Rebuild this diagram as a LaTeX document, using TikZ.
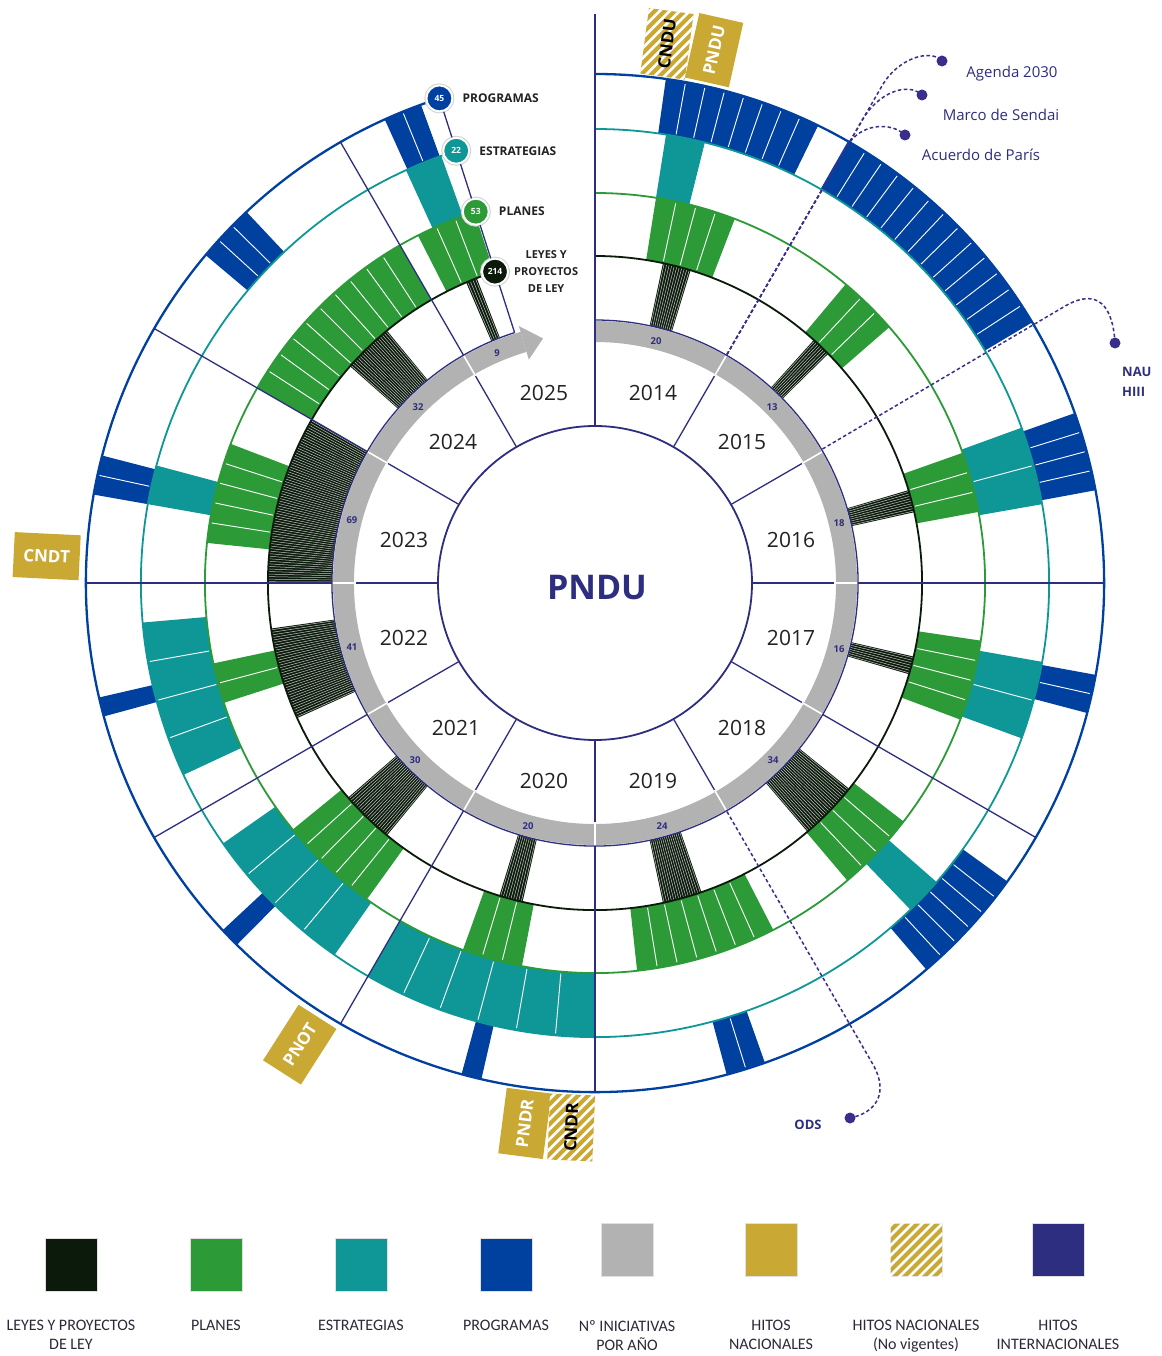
\documentclass[tikz,border=0pt]{standalone}
\usepackage{fontspec}
\setmainfont{Open Sans}
\newfontfamily\legendfont{Carlito}
\usetikzlibrary{calc}

\definecolor{leyes}{HTML}{0B1A0B}
\definecolor{planes}{HTML}{2B9A37}
\definecolor{estrat}{HTML}{0F9797}
\definecolor{progr}{HTML}{0041A0}
\definecolor{grisring}{HTML}{B2B2B2}
\definecolor{oro}{HTML}{C9A833}
\definecolor{marino}{HTML}{2E2E80}
\definecolor{trazo}{HTML}{3A2E8C}
\definecolor{texto}{HTML}{222222}
\definecolor{leyenda}{HTML}{2A2A3A}

% one coloured bar of a ring: inner r, outer r, start, end, number of items, colour
\newcommand{\bandwedge}[6]{%
  \fill[#6] (#3:#1) arc[start angle=#3,end angle=#4,radius=#1pt]
    -- (#4:#2) arc[start angle=#4,end angle=#3,radius=#2pt] -- cycle;
  \pgfmathtruncatemacro{\nlast}{#5-1}%
  \ifnum\nlast>0
    \foreach \k in {1,...,\nlast}{%
      \pgfmathsetmacro{\ang}{(#3)+\k*((#4)-(#3))/(#5)}%
      \draw[white,line width=0.9pt,shorten <=2pt,shorten >=2pt] (\ang:#1) -- (\ang:#2);
    }%
  \fi
}
% hatched bar of the laws ring: start, end
\newcommand{\leywedge}[2]{%
  \fill[leyes] (#1:263) arc[start angle=#1,end angle=#2,radius=263pt]
    -- (#2:327) arc[start angle=#2,end angle=#1,radius=327pt] -- cycle;
  \pgfmathtruncatemacro{\nh}{max(2,round(abs((#2)-(#1))/0.45))}%
  \foreach \k in {1,...,\nh}{%
    \pgfmathsetmacro{\ang}{(#1)+(\k-0.5)*((#2)-(#1))/\nh}%
    \draw[white!75!leyes,line width=0.5pt] (\ang:263) -- (\ang:327);
  }%
}
% white diagonal stripes over a named box
\newcommand{\stripebox}[1]{%
  \begin{scope}
    \clip (#1.north west) -- (#1.north east) -- (#1.south east) -- (#1.south west) -- cycle;
    \foreach \s in {-130,-120,...,130}
      \draw[white,line width=2.6pt] ($(#1.center)+(\s,0)+(-70,-70)$) -- ++(140,140);
  \end{scope}
}

\begin{document}
\begin{tikzpicture}[x=1pt,y=1pt,
  radial/.style={marino,line width=1.3pt},
  hitoline/.style={trazo,line width=1.5pt,dash pattern=on 3.5pt off 2.5pt},
  hitodot/.style={circle,fill=trazo,inner sep=0pt,minimum size=11pt},
  yearlbl/.style={font=\fontsize{21}{21}\selectfont,text=texto,inner sep=0pt},
  countlbl/.style={font=\bfseries\fontsize{9.5}{9.5}\selectfont,text=marino,inner sep=0pt},
  badge/.style={circle,draw=white,line width=2pt,preaction={draw=black!18,line width=4pt},minimum size=26pt,inner sep=0pt,text=white,font=\bfseries\fontsize{8.5}{8.5}\selectfont},
  badgelbl/.style={anchor=west,inner sep=0pt,text=texto,font=\bfseries\fontsize{12}{17}\selectfont},
  hitobox/.style={fill=oro,minimum width=66pt,minimum height=45pt,inner sep=0pt,text=white,font=\bfseries\fontsize{17}{17}\selectfont},
  hitotxt/.style={inner sep=0pt,font=\bfseries\fontsize{17}{17}\selectfont},
  hitolbl/.style={text=marino,font=\fontsize{15}{15}\selectfont,inner sep=0pt},
  legsq/.style={minimum width=52pt,minimum height=53pt,inner sep=0pt,draw=black!12,line width=0.5pt},
  leglbl/.style={anchor=north,align=center,inner sep=0pt,text=leyenda,font=\legendfont\fontsize{16}{19}\selectfont}
]
\useasboundingbox[fill=white] (-595,-773) rectangle (566,583);

% ---------- programmes ring ----------
\bandwedge{454}{509}{64}{82}{8}{progr}
\bandwedge{454}{509}{30.8}{60.2}{13}{progr}
\bandwedge{454}{509}{10.5}{19.5}{4}{progr}
\bandwedge{454}{509}{-14.8}{-10.4}{2}{progr}
\bandwedge{454}{509}{-49.4}{-35.9}{6}{progr}
\bandwedge{454}{509}{-75}{-70.5}{2}{progr}
\bandwedge{454}{509}{254.8}{257.1}{1}{progr}
\bandwedge{454}{509}{223}{225.3}{1}{progr}
\bandwedge{454}{509}{193}{195.2}{1}{progr}
\bandwedge{454}{509}{165.5}{170}{2}{progr}
\bandwedge{454}{509}{133.2}{139.9}{3}{progr}
\bandwedge{454}{509}{110}{114.4}{2}{progr}

% ---------- strategies ring ----------
\bandwedge{390}{454}{76}{81}{1}{estrat}
\bandwedge{390}{454}{10}{20}{2}{estrat}
\bandwedge{390}{454}{-20}{-10}{2}{estrat}
\bandwedge{390}{454}{-46}{-41.2}{1}{estrat}
\bandwedge{390}{454}{240}{270}{6}{estrat}
\bandwedge{390}{454}{215}{235}{4}{estrat}
\bandwedge{390}{454}{185}{205}{4}{estrat}
\bandwedge{390}{454}{165}{170}{1}{estrat}
\bandwedge{390}{454}{109.8}{114.6}{1}{estrat}

% ---------- plans ring ----------
\bandwedge{327}{390}{69}{81}{4}{planes}
\bandwedge{327}{390}{41}{50}{3}{planes}
\bandwedge{327}{390}{10.5}{19.5}{3}{planes}
\bandwedge{327}{390}{-20.5}{-8.5}{4}{planes}
\bandwedge{327}{390}{-49.7}{-37.7}{4}{planes}
\bandwedge{327}{390}{-83.8}{-62.8}{7}{planes}
\bandwedge{327}{390}{250.2}{259.2}{3}{planes}
\bandwedge{327}{390}{219.2}{234.2}{5}{planes}
\bandwedge{327}{390}{191.9}{197.9}{2}{planes}
\bandwedge{327}{390}{159.1}{174.1}{5}{planes}
\bandwedge{327}{390}{120}{150}{10}{planes}
\bandwedge{327}{390}{108}{117}{3}{planes}

% ---------- laws ring ----------
\leywedge{73}{78}
\leywedge{44.5}{48}
\leywedge{12.5}{16.5}
\leywedge{-16.2}{-13}
\leywedge{-49.5}{-39}
\leywedge{-78}{-71}
\leywedge{253}{257.2}
\leywedge{221}{230.5}
\leywedge{188}{204.4}
\leywedge{150}{180}
\leywedge{129.5}{138.5}
\leywedge{111.2}{113.2}

% ---------- yearly count ring with arrow ----------
\foreach \a in {60,30,0,-30,-60,-90,-120,-150,180,150,120}
  \draw[radial] (\a:157) -- (\a:241);
\fill[grisring] (106.5:241) arc[start angle=106.5,end angle=450,radius=241pt]
  -- (450:262) arc[start angle=450,end angle=106.5,radius=262pt] -- cycle;
\fill[grisring] (106.5:233) -- (102:250) -- (106.5:268) -- cycle;
\foreach \a in {60,30,0,-30,-60,-90,-120,-150,180,150,120}
  \draw[white,line width=1.6pt] (\a:239) -- (\a:262.5);

% ---------- ring outlines ----------
\draw[marino,line width=1.3pt] (107.8:263) arc[start angle=107.8,end angle=450,radius=263pt];
\draw[leyes,line width=1.8pt] (107.8:327) arc[start angle=107.8,end angle=450,radius=327pt];
\draw[planes,line width=1.8pt] (107.8:390) arc[start angle=107.8,end angle=450,radius=390pt];
\draw[estrat,line width=1.8pt] (107.8:454) arc[start angle=107.8,end angle=450,radius=454pt];
\draw[progr,line width=2.3pt] (107.8:509) arc[start angle=107.8,end angle=450,radius=509pt];
\draw[marino,line width=1.8pt] (0,0) circle[radius=157pt];

% ---------- year dividers in the outer rings ----------
\foreach \a in {0,-30,-90,-120,-150,180,150,120}
  \draw[radial] (\a:263) -- (\a:509);
\draw[radial] (90:157) -- (90:569);

% ---------- milestone leaders ----------
\node[hitodot] (dotAgenda) at (347,522) {};
\node[hitodot] (dotSendai) at (327,488) {};
\node[hitodot] (dotParis) at (310,448) {};
\node[hitodot] (dotNau) at (520,240) {};
\node[hitodot] (dotOds) at (255,-535) {};
\coordinate (baseSixty) at (60:264);
\coordinate (baseNau) at (30.5:264);
\coordinate (baseOds) at (-60:264);
\draw[hitoline] (baseSixty) -- (60:575) .. controls (60:605) and (335,535) .. (dotAgenda.center);
\draw[hitoline] (baseSixty) -- (60:535) .. controls (60:565) and (312,502) .. (dotSendai.center);
\draw[hitoline] (baseSixty) -- (60:505) .. controls (60:530) and (295,462) .. (dotParis.center);
\draw[hitoline] (baseNau) -- (30.5:545) .. controls (30.5:585) and (518,275) .. (dotNau.center);
\draw[hitoline] (baseOds) -- (-60:555) .. controls (-60:590) and (280,-530) .. (dotOds.center);
\node[hitolbl] (lblAgenda) at (417,509) {Agenda 2030};
\node[hitolbl] (lblSendai) at (406,468) {Marco de Sendai};
\node[hitolbl] (lblParis) at (386,428) {Acuerdo de París};
\node[anchor=west,align=left,text=marino,inner sep=0pt,font=\bfseries\fontsize{13}{20}\selectfont] (lblNau) at (527,201) {NAU\\HIII};
\node[text=marino,inner sep=0pt,font=\bfseries\fontsize{13}{13}\selectfont] (lblOds) at (213,-542) {ODS};

% ---------- totals scale ----------
\coordinate (scaleBase) at (107.8:263);
\node[badge,fill=leyes] (b214) at (107.8:327) {214};
\node[badge,fill=planes] (b53) at (107.8:390) {53};
\node[badge,fill=estrat] (b22) at (107.8:454) {22};
\node[badge,fill=progr] (b45) at (107.8:509) {45};
\draw[radial] (scaleBase) -- (b214);
\draw[radial] (b214) -- (b53);
\draw[radial] (b53) -- (b22);
\draw[radial] (b22) -- (b45);
\node[badgelbl] (lbl45) at ([xshift=9pt]b45.east) {PROGRAMAS};
\node[badgelbl] (lbl22) at ([xshift=9pt]b22.east) {ESTRATEGIAS};
\node[badgelbl] (lbl53) at ([xshift=9pt]b53.east) {PLANES};
\node[badgelbl,align=center,font=\bfseries\fontsize{11}{17}\selectfont] (lbl214) at ([xshift=5pt]b214.east) {LEYES Y\\PROYECTOS\\DE LEY};

% ---------- year labels and counts ----------
\node[yearlbl] (y14) at (58,190) {2014};
\node[yearlbl] (y15) at (147,141) {2015};
\node[yearlbl] (y16) at (196,43) {2016};
\node[yearlbl] (y17) at (196,-55) {2017};
\node[yearlbl] (y18) at (147,-145) {2018};
\node[yearlbl] (y19) at (58,-198) {2019};
\node[yearlbl] (y20) at (-51,-198) {2020};
\node[yearlbl] (y21) at (-139,-145) {2021};
\node[yearlbl] (y22) at (-191,-55) {2022};
\node[yearlbl] (y23) at (-191,43) {2023};
\node[yearlbl] (y24) at (-142,141) {2024};
\node[yearlbl] (y25) at (-51,190) {2025};
\node[countlbl] (c14) at (61,242) {20};
\node[countlbl] (c15) at (177,176) {13};
\node[countlbl] (c16) at (244,60) {18};
\node[countlbl] (c17) at (244,-66) {16};
\node[countlbl] (c18) at (178,-177) {34};
\node[countlbl] (c19) at (67,-243) {24};
\node[countlbl] (c20) at (-67,-243) {20};
\node[countlbl] (c21) at (-180,-177) {30};
\node[countlbl] (c22) at (-243,-64) {41};
\node[countlbl] (c23) at (-243,63) {69};
\node[countlbl] (c24) at (-177,176) {32};
\node[countlbl] (c25) at (-98,230) {9};
\node[text=marino,inner sep=0pt,font=\bfseries\fontsize{34}{34}\selectfont] (centre) at (2,-5) {PNDU};

% ---------- national milestones ----------
\node[hitobox,rotate=82.4] (cndu) at (82.4:544) {};
\stripebox{cndu}
\node[hitotxt,rotate=82.4,text=black] (cnduTxt) at (cndu.center) {CNDU};
\node[hitobox,rotate=77.4] (pndu) at (77.4:546) {PNDU};
\node[hitobox,rotate=-2.8] (cndt) at (177.2:549) {CNDT};
\node[hitobox,rotate=57.4] (pnot) at (237.4:548) {PNOT};
\node[hitobox,rotate=82.6] (pndr) at (262.6:545) {PNDR};
\node[hitobox,rotate=87.5] (cndr) at (267.5:545) {};
\stripebox{cndr}
\node[hitotxt,rotate=87.5,text=black] (cndrTxt) at (cndr.center) {CNDR};

% ---------- legend ----------
\node[legsq,fill=leyes] (lgLeyes) at (-524,-682) {};
\node[legsq,fill=planes] (lgPlanes) at (-379,-682) {};
\node[legsq,fill=estrat] (lgEstrat) at (-234,-682) {};
\node[legsq,fill=progr] (lgProgr) at (-89,-682) {};
\node[legsq,fill=grisring] (lgGris) at (32,-667) {};
\node[legsq,fill=oro] (lgOro) at (176,-667) {};
\node[legsq,fill=oro] (lgRaya) at (321,-667) {};
\stripebox{lgRaya}
\node[legsq,fill=marino] (lgMarino) at (463,-667) {};
\node[leglbl] (tLeyes) at (-524,-737) {LEYES Y PROYECTOS\\DE LEY};
\node[leglbl] (tPlanes) at (-379,-737) {PLANES};
\node[leglbl] (tEstrat) at (-234,-737) {ESTRATEGIAS};
\node[leglbl] (tProgr) at (-89,-737) {PROGRAMAS};
\node[leglbl] (tGris) at (32,-737) {Nº INICIATIVAS\\POR AÑO};
\node[leglbl] (tOro) at (176,-737) {HITOS\\NACIONALES};
\node[leglbl] (tRaya) at (321,-737) {HITOS NACIONALES\\(No vigentes)};
\node[leglbl] (tMarino) at (463,-737) {HITOS\\INTERNACIONALES};
\end{tikzpicture}
\end{document}
